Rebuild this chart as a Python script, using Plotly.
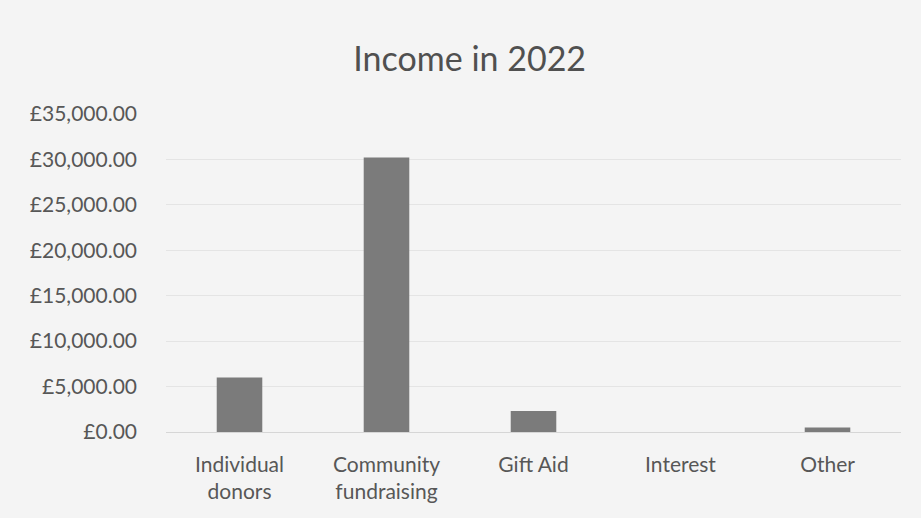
import plotly.graph_objects as go

categories = ["Individual<br>donors", "Community<br>fundraising", "Gift Aid", "Interest", "Other"]
income = [6000, 30200, 2300, 0, 500]
y_ticks = [0, 5000, 10000, 15000, 20000, 25000, 30000, 35000]
y_tick_text = ["\u00a3{:,.2f}".format(v) for v in y_ticks]

TEXT = "#575757"
BAR = "#7b7b7b"
BG = "#f4f4f4"
GRID = "#e4e4e4"

fig = go.Figure(
    go.Bar(
        x=categories,
        y=income,
        marker=dict(color=BAR, line=dict(width=0)),
        width=0.31,
        hovertemplate="%{x}: %{y:,.2f}<extra></extra>",
    )
)

fig.update_layout(
    width=921,
    height=518,
    paper_bgcolor=BG,
    plot_bgcolor=BG,
    font=dict(family="Lato, Open Sans, sans-serif", color=TEXT, size=21),
    title=dict(
        text="Income in 2022",
        x=0.51,
        xanchor="center",
        y=0.885,
        yanchor="middle",
        font=dict(size=34, color="#505050"),
    ),
    margin=dict(l=166, r=20, t=114, b=86),
    showlegend=False,
)
fig.update_yaxes(
    range=[0, 35000],
    tickvals=y_ticks,
    ticktext=y_tick_text,
    tickfont=dict(size=21),
    showgrid=True,
    gridcolor=GRID,
    gridwidth=1,
    zeroline=True,
    zerolinecolor="#d6d6d6",
    zerolinewidth=1,
    ticklabelstandoff=28,
    showline=False,
)
fig.update_xaxes(
    showgrid=False, showline=False, ticks="", tickfont=dict(size=21), ticklabelstandoff=18
)

# drop the page's default body margin so the chart fills the window
fig.write_html(
    "out.html",
    config={"displayModeBar": False},
    post_script="document.body.style.margin='0';",
)
